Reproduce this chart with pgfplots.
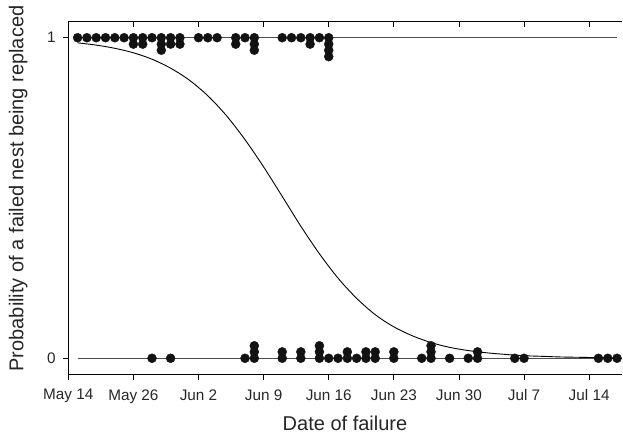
\documentclass[border=0pt]{standalone}
\usepackage{fontspec}
\setmainfont{Liberation Sans}
\usepackage{pgfplots}
\pgfplotsset{compat=1.18}
\begin{document}
\begin{tikzpicture}
\path[use as bounding box] (-68.3pt,-60.7pt) rectangle (554.7pt,374.3pt);
\begin{axis}[
 at={(0pt,0pt)}, anchor=south west,
 scale only axis, width=553.4pt, height=352.6pt,
 xmin=0, xmax=59.5, ymin=-0.05, ymax=1.05,
 axis x line*=bottom, axis y line*=left,
 axis line style={black, line width=0.8pt},
 tick align=outside, major tick length=5.5pt,
 tick style={black, line width=0.8pt},
 xtick={0,7,14,21,28,35,42,49,56},
 xticklabels={May 14,May 26,Jun 2,Jun 9,Jun 16,Jun 23,Jun 30,Jul 7,Jul 14},
 ytick={0,1}, yticklabels={0,1},
 ticklabel style={font=\fontsize{15.3}{18}\selectfont, text=black!85},
 xticklabel style={yshift=-6pt},
 yticklabel style={xshift=-3.7pt},
 xlabel={Date of failure}, ylabel={Probability of a failed nest being replaced},
 label style={font=\fontsize{20}{24}\selectfont, text=black!85},
 xlabel style={at={(axis description cs:0.5,-0.16)}, anchor=base},
 ylabel style={at={(axis description cs:-0.0813,0.527)}, anchor=base},
 clip=false,
]
\addplot[black!70, line width=0.9pt] coordinates {(1,1) (59,1)};
\addplot[black!70, line width=0.9pt] coordinates {(1,0) (59,0)};
\addplot[black, line width=0.9pt, smooth] coordinates {
(1,0.984)(3,0.977)(5,0.967)(7,0.953)(9,0.933)(11,0.905)(13,0.868)(15,0.819)(17,0.757)(19,0.682)(21,0.597)(23,0.505)(25,0.412)(27,0.326)(29,0.250)(31,0.187)(33,0.136)(35,0.098)(37,0.070)(39,0.049)(41,0.034)(43,0.024)(45,0.017)(47,0.012)(49,0.008)(51,0.006)(53,0.004)(55,0.003)(57,0.002)(59,0.001)};
\addplot[only marks, mark=*, mark size=4.5pt, mark options={fill=black!93, draw=black!93}] coordinates {
(1,1)(2,1)(3,1)(4,1)(5,1)(6,1)(7,1)(7,0.980)(8,1)(8,0.980)(9,1)(10,1)(10,0.980)(10,0.961)(11,1)(11,0.980)(12,1)(12,0.980)(14,1)(15,1)(16,1)(18,1)(18,0.980)(19,1)(20,1)(20,0.980)(20,0.961)(23,1)(24,1)(25,1)(26,1)(26,0.980)(27,1)(28,1)(28,0.980)(28,0.961)(28,0.941)};
\addplot[only marks, mark=*, mark size=4.5pt, mark options={fill=black!93, draw=black!93}] coordinates {
(9,0)(11,0)(19,0)(20,0)(20,0.020)(20,0.039)(23,0)(23,0.020)(25,0)(25,0.020)(27,0)(27,0.020)(27,0.039)(28,0)(29,0)(30,0)(30,0.020)(31,0)(32,0)(32,0.020)(33,0)(33,0.020)(35,0)(35,0.020)(38,0)(39,0)(39,0.020)(39,0.039)(41,0)(43,0)(44,0)(44,0.020)(48,0)(49,0)(57,0)(58,0)(59,0)};
\end{axis}
\begin{axis}[
 at={(0pt,0pt)}, anchor=south west,
 scale only axis, width=553.4pt, height=352.6pt,
 xmin=0, xmax=59.5, ymin=-0.05, ymax=1.05,
 axis x line*=top, axis y line=none,
 axis line style={black, line width=0.8pt},
 tick align=inside, major tick length=5pt,
 tick style={black, line width=0.8pt},
 xtick={0,7,14,21,28,35,42,49,56}, xticklabels={},
 ytick=\empty,
]
\end{axis}
\end{tikzpicture}
\end{document}
